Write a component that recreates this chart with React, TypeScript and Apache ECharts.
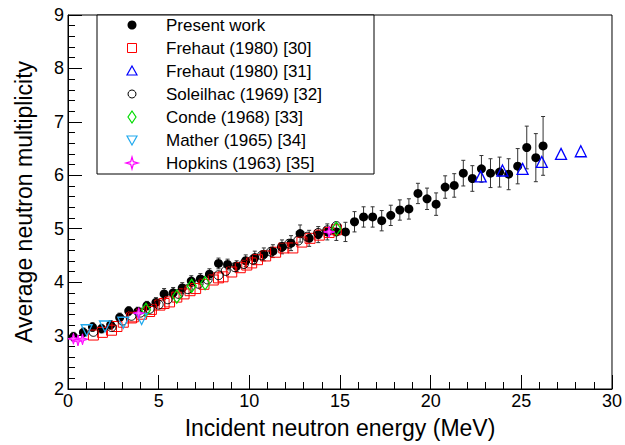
import React, { useEffect, useRef } from "react";
import * as echarts from "echarts";

// Present work
const presentE = [0.3, 0.85, 1.35, 1.85, 2.35, 2.85, 3.35, 3.85, 4.35, 4.85, 5.3, 5.8, 6.3, 6.8, 7.3, 7.8, 8.3, 8.8, 9.3, 9.8, 10.3, 10.8, 11.3, 11.8, 12.3, 12.8, 13.3, 13.8, 14.3, 14.8, 15.3, 15.8, 16.3, 16.8, 17.3, 17.8, 18.3, 18.8, 19.3, 19.8, 20.3, 20.8, 21.3, 21.8, 22.3, 22.8, 23.3, 23.8, 24.3, 24.8, 25.3, 25.8, 26.2];
const presentNu = [2.98, 3.06, 3.16, 3.13, 3.2, 3.34, 3.46, 3.45, 3.56, 3.62, 3.78, 3.8, 3.89, 4.02, 4.06, 4.15, 4.35, 4.33, 4.3, 4.4, 4.46, 4.52, 4.58, 4.66, 4.73, 4.91, 4.82, 4.89, 4.94, 4.94, 4.94, 5.13, 5.22, 5.22, 5.15, 5.25, 5.35, 5.37, 5.66, 5.56, 5.46, 5.78, 5.81, 6.04, 5.94, 6.12, 6.04, 6.06, 6.02, 6.17, 6.52, 6.33, 6.55];
const presentErr = [0.08, 0.08, 0.08, 0.08, 0.08, 0.08, 0.08, 0.08, 0.08, 0.09, 0.1, 0.1, 0.1, 0.1, 0.1, 0.1, 0.1, 0.1, 0.1, 0.11, 0.12, 0.12, 0.12, 0.13, 0.14, 0.16, 0.15, 0.15, 0.15, 0.16, 0.18, 0.19, 0.19, 0.19, 0.19, 0.19, 0.19, 0.19, 0.19, 0.2, 0.21, 0.21, 0.22, 0.24, 0.24, 0.25, 0.27, 0.28, 0.29, 0.33, 0.4, 0.45, 0.55];

// Frehaut (1980) [30]
const frehaut30E = [1.4, 1.9, 2.4, 2.7, 3.05, 3.5, 3.6, 4.06, 4.5, 4.6, 5.07, 5.3, 5.6, 6.0, 6.4, 6.73, 7.04, 7.5, 8.01, 8.3, 8.55, 9.03, 9.5, 9.86, 10.13, 10.45, 10.9, 11.45, 11.9, 12.4, 12.9, 13.35, 13.86, 14.4, 14.8];
const frehaut30Nu = [3.01, 3.06, 3.1, 3.17, 3.25, 3.33, 3.35, 3.4, 3.45, 3.49, 3.57, 3.6, 3.63, 3.72, 3.78, 3.84, 3.88, 3.96, 4.04, 4.08, 4.1, 4.19, 4.27, 4.32, 4.36, 4.42, 4.49, 4.56, 4.64, 4.64, 4.75, 4.82, 4.88, 4.93, 4.98];

// Frehaut (1980) [31]
const frehaut31E = [22.76, 23.96, 25.07, 26.13, 27.19, 28.28];
const frehaut31Nu = [5.98, 6.09, 6.12, 6.25, 6.4, 6.45];

// Soleilhac (1969) [32]
const soleilhacE = [1.4, 2.4, 3.0, 3.5, 4.0, 4.5, 5.0, 5.5, 6.1, 6.6, 7.2, 7.7, 8.3, 8.7, 9.2, 9.7, 10.2, 10.7, 11.2, 11.8, 12.2, 12.7, 13.2, 13.8, 14.3, 14.8];
const soleilhacNu = [3.07, 3.16, 3.28, 3.37, 3.43, 3.5, 3.58, 3.68, 3.78, 3.87, 3.97, 4.05, 4.13, 4.21, 4.28, 4.34, 4.42, 4.5, 4.57, 4.66, 4.72, 4.78, 4.85, 4.92, 4.97, 5.05];

// Conde (1968) [33]
const condeE = [4.3, 6.0, 6.82, 7.56, 14.8];
const condeNu = [3.48, 3.73, 3.93, 3.98, 5.0];

// Mather (1965) [34]
const matherE = [1.03, 2.04, 3.05, 4.06];
const matherNu = [3.1, 3.17, 3.24, 3.31];

// Hopkins (1963) [35]
const hopkinsE = [0.3, 0.55, 0.8, 3.9, 14.4];
const hopkinsNu = [2.94, 2.91, 2.93, 3.42, 4.94];

const xTicks = [0, 5, 10, 15, 20, 25, 30];
const yTicks = [2, 3, 4, 5, 6, 7, 8, 9];

const legendNames = [
  "Present work",
  "Frehaut (1980) [30]",
  "Frehaut (1980) [31]",
  "Soleilhac (1969) [32]",
  "Conde (1968) [33]",
  "Mather (1965) [34]",
  "Hopkins (1963) [35]",
];

const FONT = "'Liberation Sans', Arial, Helvetica, sans-serif";
const STAR = "path://M0,-6 L1.3,-1.3 L6,0 L1.3,1.3 L0,6 L-1.3,1.3 L-6,0 L-1.3,-1.3 Z";
const CYAN = "#22aaee";
const GREEN = "#00dd00";

const zip = (a: number[], b: number[]) => a.map((v, i) => [v, b[i]]);

export default function App() {
  const ref = useRef<HTMLDivElement>(null);
  useEffect(() => {
    if (!ref.current) return;
    const chart = echarts.init(ref.current, null, { renderer: "svg" });

    const lx = 132;
    const tx = 166;
    const rowY = (i: number) => 25 + i * 23;
    const markerEls: any[] = [
      { type: "circle", shape: { cx: lx, cy: rowY(0), r: 4.5 }, style: { fill: "#000" } },
      { type: "rect", shape: { x: lx - 4.5, y: rowY(1) - 4.5, width: 9, height: 9 }, style: { fill: "none", stroke: "#ff0000", lineWidth: 1 } },
      { type: "polygon", shape: { points: [[lx, rowY(2) - 5], [lx + 5, rowY(2) + 4], [lx - 5, rowY(2) + 4]] }, style: { fill: "none", stroke: "#0000ff", lineWidth: 1.2 } },
      { type: "circle", shape: { cx: lx, cy: rowY(3), r: 4 }, style: { fill: "none", stroke: "#000", lineWidth: 1 } },
      { type: "polygon", shape: { points: [[lx, rowY(4) - 6], [lx + 4, rowY(4)], [lx, rowY(4) + 6], [lx - 4, rowY(4)]] }, style: { fill: "none", stroke: GREEN, lineWidth: 1.2 } },
      { type: "polygon", shape: { points: [[lx, rowY(5) + 5], [lx + 5, rowY(5) - 4], [lx - 5, rowY(5) - 4]] }, style: { fill: "none", stroke: CYAN, lineWidth: 1.2 } },
      { type: "polygon", shape: { points: [[lx, rowY(6) - 6], [lx + 1.3, rowY(6) - 1.3], [lx + 6, rowY(6)], [lx + 1.3, rowY(6) + 1.3], [lx, rowY(6) + 6], [lx - 1.3, rowY(6) + 1.3], [lx - 6, rowY(6)], [lx - 1.3, rowY(6) - 1.3]] }, style: { fill: "none", stroke: "#ff00ff", lineWidth: 1.2 } },
    ];
    const textEls = legendNames.map((n, i) => ({
      type: "text",
      x: tx,
      y: rowY(i),
      style: { text: n, fill: "#000", font: `17px ${FONT}`, textVerticalAlign: "middle", textAlign: "left" },
    }));

    const option: any = {
      animation: false,
      backgroundColor: "#fff",
      grid: { left: 68, right: 13, top: 15, bottom: 56, show: true, borderColor: "#000", borderWidth: 1, backgroundColor: "transparent" },
      xAxis: {
        type: "value",
        min: xTicks[0],
        max: xTicks[xTicks.length - 1],
        interval: 5,
        name: "Incident neutron energy (MeV)",
        nameLocation: "middle",
        nameGap: 27,
        nameTextStyle: { fontFamily: FONT, fontSize: 23, color: "#000" },
        axisLine: { lineStyle: { color: "#000", width: 1 } },
        axisTick: { inside: true, length: 14, lineStyle: { color: "#000" } },
        minorTick: { show: true, splitNumber: 5, length: 7, lineStyle: { color: "#000" } },
        splitLine: { show: false },
        axisLabel: { fontFamily: FONT, fontSize: 18, color: "#000", margin: 3 },
      },
      yAxis: {
        type: "value",
        min: yTicks[0],
        max: yTicks[yTicks.length - 1],
        interval: 1,
        name: "Average neutron multiplicity",
        nameLocation: "middle",
        nameGap: 33,
        nameTextStyle: { fontFamily: FONT, fontSize: 23, color: "#000" },
        axisLine: { lineStyle: { color: "#000", width: 1 } },
        axisTick: { inside: true, length: 14, lineStyle: { color: "#000" } },
        minorTick: { show: true, splitNumber: 5, length: 7, lineStyle: { color: "#000" } },
        splitLine: { show: false },
        axisLabel: { fontFamily: FONT, fontSize: 18, color: "#000", margin: 4 },
      },
      graphic: [
        { type: "rect", shape: { x: 97, y: 15, width: 277, height: 159 }, style: { fill: "#fff", stroke: "#000", lineWidth: 1 }, z: 10 },
        ...markerEls.map((m) => ({ ...m, z: 11 })),
        ...textEls.map((t) => ({ ...t, z: 11 })),
      ],
      series: [
        {
          type: "custom",
          name: "Present work error",
          data: presentE.map((e, i) => [e, presentNu[i], presentErr[i]]),
          encode: { x: 0, y: 1 },
          z: 1,
          renderItem: (params: any, api: any) => {
            const x = api.value(0), y = api.value(1), e = api.value(2);
            const t = api.coord([x, y + e]);
            const b = api.coord([x, y - e]);
            const st = { stroke: "#333", lineWidth: 1 };
            return {
              type: "group",
              children: [
                { type: "line", shape: { x1: t[0], y1: t[1], x2: b[0], y2: b[1] }, style: st },
                { type: "line", shape: { x1: t[0] - 2, y1: t[1], x2: t[0] + 2, y2: t[1] }, style: st },
                { type: "line", shape: { x1: b[0] - 2, y1: b[1], x2: b[0] + 2, y2: b[1] }, style: st },
              ],
            };
          },
        },
        {
          type: "scatter", name: legendNames[0], z: 2,
          data: zip(presentE, presentNu), symbol: "circle", symbolSize: 9,
          itemStyle: { color: "#000", opacity: 1 },
        },
        {
          type: "scatter", name: legendNames[1], z: 3,
          data: zip(frehaut30E, frehaut30Nu), symbol: "rect", symbolSize: 10,
          itemStyle: { color: "rgba(0,0,0,0)", borderColor: "#ff0000", borderWidth: 1, opacity: 1 },
        },
        {
          type: "scatter", name: legendNames[2], z: 3,
          data: zip(frehaut31E, frehaut31Nu), symbol: "triangle", symbolSize: 11,
          itemStyle: { color: "rgba(0,0,0,0)", borderColor: "#0000ff", borderWidth: 1.3, opacity: 1 },
        },
        {
          type: "scatter", name: legendNames[3], z: 3,
          data: zip(soleilhacE, soleilhacNu), symbol: "circle", symbolSize: 9,
          itemStyle: { color: "rgba(0,0,0,0)", borderColor: "#000", borderWidth: 1, opacity: 1 },
        },
        {
          type: "scatter", name: legendNames[4], z: 3,
          data: zip(condeE, condeNu), symbol: "diamond", symbolSize: [9, 13],
          itemStyle: { color: "rgba(0,0,0,0)", borderColor: GREEN, borderWidth: 1.3, opacity: 1 },
        },
        {
          type: "scatter", name: legendNames[5], z: 3,
          data: zip(matherE, matherNu), symbol: "triangle", symbolRotate: 180, symbolSize: 11,
          itemStyle: { color: "rgba(0,0,0,0)", borderColor: CYAN, borderWidth: 1.3, opacity: 1 },
        },
        {
          type: "scatter", name: legendNames[6], z: 3,
          data: zip(hopkinsE, hopkinsNu), symbol: STAR, symbolSize: 11,
          itemStyle: { color: "#ff66ff", borderColor: "#ff00ff", borderWidth: 1, opacity: 1 },
        },
      ],
    };
    chart.setOption(option);
    return () => chart.dispose();
  }, []);
  return (
    <div
      ref={ref}
      style={{ position: "absolute", left: 0, top: 0, width: 625, height: 445, background: "#fff" }}
    />
  );
}
